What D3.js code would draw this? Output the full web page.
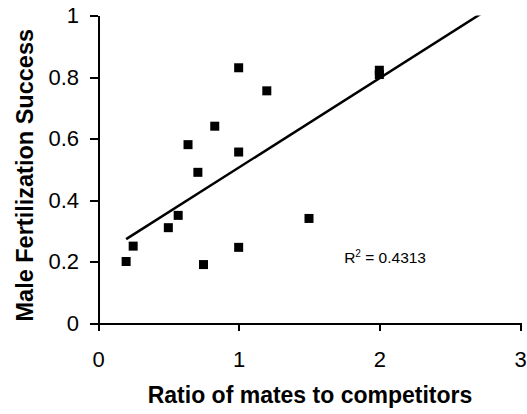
<!DOCTYPE html>
<html>
<head>
<meta charset="utf-8">
<script src="https://cdn.jsdelivr.net/npm/d3@7"></script>
<style>
body { margin:0; background:#fff; }
.axis path, .axis line { stroke:#000; stroke-width:2; shape-rendering:crispEdges; }
.axis text { font-family:"Liberation Sans", Arial, sans-serif; font-size:22px; fill:#000; }
</style>
</head>
<body>
<svg id="chart" width="527" height="414"></svg>
<script>
// ---- data ----
var ratio   = [0.20, 0.25, 0.50, 0.57, 0.64, 0.71, 0.75, 0.83, 1.00, 1.00, 1.00, 1.20, 1.50, 2.00, 2.00]
var success = [0.20, 0.25, 0.31, 0.35, 0.58, 0.49, 0.19, 0.64, 0.83, 0.556, 0.246, 0.755, 0.34, 0.808, 0.822]
var xTicks = [0, 1, 2, 3]
var yTicks = [0, 0.2, 0.4, 0.6, 0.8, 1]
// linear trendline (fit as in the picture)
var trendSlope = 0.2906
var trendIntercept = 0.2146
var trendRange = [0.2, 3]
var r2Label = "0.4313"

var svg = d3.select("#chart")
var pLeft = 98, pRight = 520, pTop = 15.5, pBottom = 323

var x = d3.scaleLinear().domain([0, 3]).range([pLeft, pRight])
var y = d3.scaleLinear().domain([0, 1]).range([pBottom, pTop])

svg.append("defs").append("clipPath")
  .attr("id", "plotClip")
  .append("rect")
  .attr("x", pLeft).attr("y", pTop)
  .attr("width", pRight - pLeft).attr("height", pBottom - pTop)

// x axis
svg.append("g")
  .attr("class", "axis")
  .attr("transform", "translate(0," + pBottom + ")")
  .call(d3.axisBottom(x).tickValues(xTicks).tickSize(8).tickSizeOuter(0).tickPadding(20)
    .tickFormat(d3.format("d")))

// y axis
svg.append("g")
  .attr("class", "axis")
  .attr("transform", "translate(" + pLeft + ",0)")
  .call(d3.axisLeft(y).tickValues(yTicks).tickSize(8).tickSizeOuter(0).tickPadding(11)
    .tickFormat(function(d) { return d3.format("")(+d.toFixed(1)) }))

// trendline
var line = d3.line()
  .x(function(d) { return x(d) })
  .y(function(d) { return y(trendIntercept + trendSlope * d) })

svg.append("path")
  .datum(trendRange)
  .attr("clip-path", "url(#plotClip)")
  .attr("d", line)
  .attr("fill", "none")
  .attr("stroke", "#000")
  .attr("stroke-width", 2.5)

// square markers
var ms = 9
svg.append("g").selectAll("rect")
  .data(ratio)
  .join("rect")
  .attr("x", function(d) { return x(d) - ms / 2 })
  .attr("y", function(d, i) { return y(success[i]) - ms / 2 })
  .attr("width", ms)
  .attr("height", ms)
  .attr("fill", "#000")

// R squared label
var r2 = svg.append("text")
  .attr("x", x(1.75))
  .attr("y", y(0.195))
  .attr("font-family", "Liberation Sans, Arial, sans-serif")
  .attr("font-size", "15.5px")
  .attr("fill", "#000")
r2.append("tspan").text("R")
r2.append("tspan").attr("font-size", "10px").attr("dy", "-6").text("2")
r2.append("tspan").attr("dy", "6").text(" = " + r2Label)

// axis titles
svg.append("text")
  .attr("x", (pLeft + pRight) / 2 + 1)
  .attr("y", 403)
  .attr("text-anchor", "middle")
  .attr("font-family", "Liberation Sans, Arial, sans-serif")
  .attr("font-weight", "bold")
  .attr("font-size", "23px")
  .text("Ratio of mates to competitors")

svg.append("text")
  .attr("transform", "translate(33," + ((pTop + pBottom) / 2 + 6) + ") rotate(-90)")
  .attr("text-anchor", "middle")
  .attr("font-family", "Liberation Sans, Arial, sans-serif")
  .attr("font-weight", "bold")
  .attr("font-size", "23.5px")
  .text("Male Fertilization Success")
</script>
</body>
</html>
